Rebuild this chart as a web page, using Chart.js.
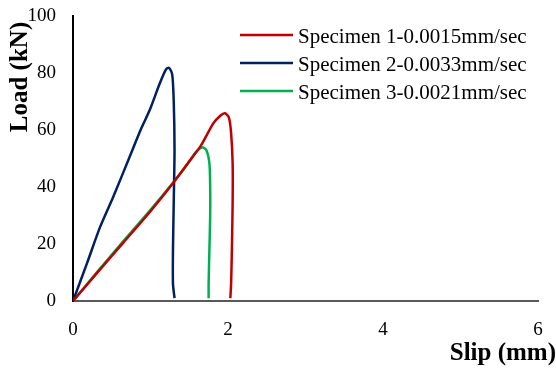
<!DOCTYPE html>
<html>
<head>
<meta charset="utf-8">
<script src="https://cdn.jsdelivr.net/npm/chart.js@4.4.1/dist/chart.umd.min.js"></script>
<style>
  html, body { margin: 0; padding: 0; background: #fff; }
  #wrap { width: 556px; height: 372px; position: relative; }
</style>
</head>
<body>
<div id="wrap"><canvas id="slipChart" width="556" height="372"></canvas></div>
<script>
// series labels
const seriesNames = ['Specimen 1-0.0015mm/sec', 'Specimen 2-0.0033mm/sec', 'Specimen 3-0.0021mm/sec'];
const seriesColors = ['#C00000', '#002060', '#00B050'];

// values (slip in mm, load in kN)
const spec1Slip = [0, 0.30, 0.65, 1.00, 1.29, 1.50, 1.65, 1.81, 1.90, 1.96, 2.01, 2.04, 2.06, 2.06, 2.05, 2.04, 2.03];
const spec1Load = [0, 9.5, 20.5, 31.5, 41.3, 49.0, 54.5, 62.3, 65.0, 65.9, 64.5, 59.0, 48.0, 35.0, 18.0, 6.0, 1.0];
const spec2Slip = [0, 0.18, 0.35, 0.52, 0.73, 0.88, 0.99, 1.12, 1.20, 1.24, 1.28, 1.30, 1.31, 1.30, 1.29, 1.29, 1.31];
const spec2Load = [0, 13.2, 26.0, 36.6, 50.5, 60.5, 67.0, 76.4, 81.3, 81.8, 79.5, 70.0, 53.0, 35.0, 18.0, 6.0, 1.0];
const spec3Slip = [0, 0.30, 0.65, 1.00, 1.29, 1.47, 1.59, 1.67, 1.72, 1.76, 1.77, 1.77, 1.76, 1.75, 1.75];
const spec3Load = [0, 9.8, 21.0, 32.0, 41.5, 47.7, 52.4, 53.9, 53.0, 48.3, 40.0, 30.0, 18.0, 6.0, 1.0];

const xTicks = [0, 2, 4, 6];
const yTicks = [0, 20, 40, 60, 80, 100];

function toPoints(xs, ys) {
    return xs.map((x, i) => ({ x: x, y: ys[i] }));
}

const allSeries = [toPoints(spec1Slip, spec1Load), toPoints(spec2Slip, spec2Load), toPoints(spec3Slip, spec3Load)];

const serif = "'Liberation Serif', 'Times New Roman', serif";

// titles and legend drawn by hand so they sit where the original has them
const decorPlugin = {
    id: 'decor',
    afterDraw(chart) {
        const c = chart.ctx;
        c.save();
        c.fillStyle = '#000';
        c.font = 'bold 25px ' + serif;
        c.textAlign = 'right';
        c.textBaseline = 'alphabetic';
        c.fillText('Slip (mm)', 556, 360);

        c.translate(27, 77);
        c.rotate(-Math.PI / 2);
        c.textAlign = 'center';
        c.fillText('Load (kN)', 0, 0);
        c.restore();

        c.save();
        c.font = '21px ' + serif;
        c.textAlign = 'left';
        c.textBaseline = 'alphabetic';
        seriesNames.forEach((name, i) => {
            const y = 35 + i * 28;
            c.strokeStyle = seriesColors[i];
            c.lineWidth = 2.5;
            c.beginPath();
            c.moveTo(240, y);
            c.lineTo(293, y);
            c.stroke();
            c.fillStyle = '#000';
            c.fillText(name, 298, y + 7.5);
        });
        c.restore();
    }
};

const ctx = document.getElementById('slipChart').getContext('2d');
const slipChart = new Chart(ctx, {
    type: 'scatter',
    data: {
        datasets: allSeries.map((pts, i) => ({
            label: seriesNames[i],
            data: pts,
            showLine: true,
            borderColor: seriesColors[i],
            backgroundColor: seriesColors[i],
            borderWidth: 2.5,
            pointRadius: 0,
            tension: 0.25,
            fill: false
        }))
    },
    options: {
        responsive: false,
        animation: false,
        devicePixelRatio: 1,
        layout: { padding: { left: 0, right: 18, top: 16, bottom: 0 } },
        plugins: {
            legend: { display: false },
            tooltip: { enabled: false }
        },
        scales: {
            x: {
                type: 'linear',
                min: 0,
                max: 6,
                afterBuildTicks: (s) => { s.ticks = xTicks.map(v => ({ value: v })); },
                afterFit: (s) => {
                    s.height = 71;
                    s.paddingLeft = 0;
                    s.paddingRight = 0;
                },
                grid: { display: false, drawTicks: false },
                border: { display: true, color: '#595959', width: 2 },
                ticks: { color: '#000', padding: 18, font: { family: serif, size: 19 } }
            },
            y: {
                min: 0,
                max: 100,
                afterBuildTicks: (s) => { s.ticks = yTicks.map(v => ({ value: v })); },
                afterFit: (s) => {
                    s.width = 73;
                    s.paddingTop = 0;
                    s.paddingBottom = 0;
                },
                grid: { display: false, drawTicks: false },
                border: { display: true, color: '#000', width: 2 },
                ticks: { color: '#000', padding: 17, font: { family: serif, size: 19 } }
            }
        }
    },
    plugins: [decorPlugin]
});
</script>
</body>
</html>
